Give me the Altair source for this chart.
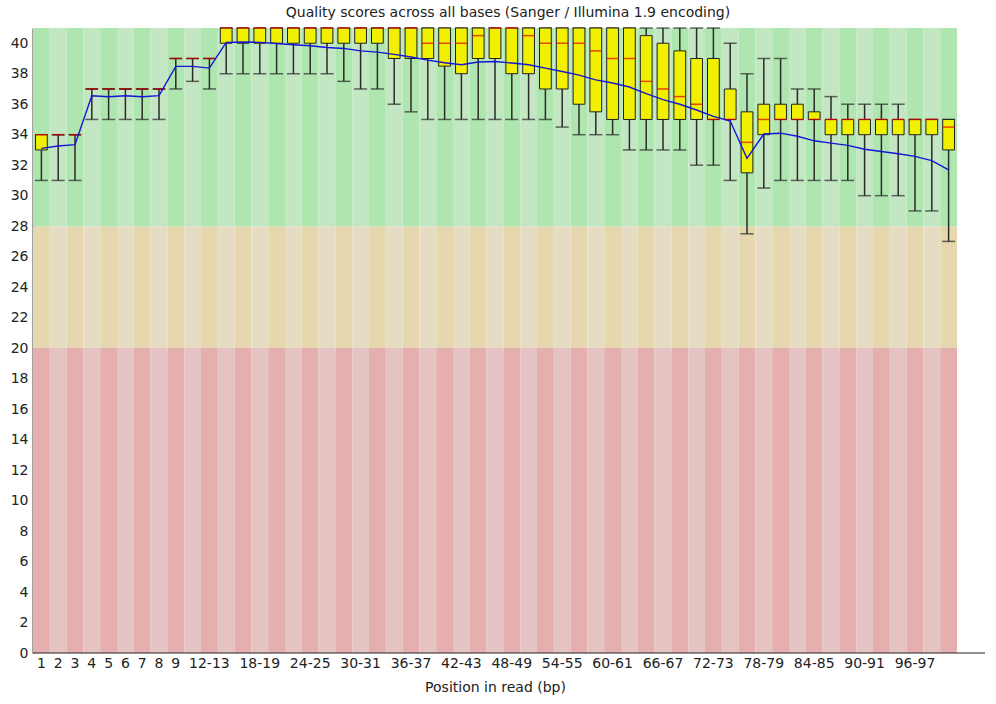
import altair as alt
import pandas as pd

positions = ["1", "2", "3", "4", "5", "6", "7", "8", "9",
             "10-11", "12-13", "14-15", "16-17", "18-19", "20-21", "22-23", "24-25",
             "26-27", "28-29", "30-31", "32-33", "34-35", "36-37", "38-39", "40-41",
             "42-43", "44-45", "46-47", "48-49", "50-51", "52-53", "54-55", "56-57",
             "58-59", "60-61", "62-63", "64-65", "66-67", "68-69", "70-71", "72-73",
             "74-75", "76-77", "78-79", "80-81", "82-83", "84-85", "86-87", "88-89",
             "90-91", "92-93", "94-95", "96-97", "98-99", "100-101"]

shown_labels = ["1", "2", "3", "4", "5", "6", "7", "8", "9", "12-13", "18-19", "24-25",
                "30-31", "36-37", "42-43", "48-49", "54-55", "60-61", "66-67", "72-73",
                "78-79", "84-85", "90-91", "96-97"]

# 10th percentile (lower whisker)
p10 = [31, 31, 31, 35, 35, 35, 35, 35, 37, 37.5, 37, 38, 38, 38, 38, 38, 38, 38, 37.5,
       37, 37, 36, 35.5, 35, 35, 35, 35, 35, 35, 35, 35, 34.5, 34, 34, 34, 33, 33, 33,
       33, 32, 32, 31, 27.5, 30.5, 31, 31, 31, 31, 31, 30, 30, 30, 29, 29, 27]
# lower quartile
q1 = [33, 34, 34, 37, 37, 37, 37, 37, 39, 39, 39, 40, 40, 40, 40, 40, 40, 40, 40,
      40, 40, 39, 39, 39, 38.5, 38, 39, 39, 38, 38, 37, 37, 36, 35.5, 35, 35, 35, 35,
      35, 35, 35, 35, 31.5, 34, 35, 35, 35, 34, 34, 34, 34, 34, 34, 34, 33]
# median
median = [34, 34, 34, 37, 37, 37, 37, 37, 39, 39, 39, 41, 41, 41, 41, 41, 41, 41, 41,
          41, 41, 41, 41, 40, 40, 40, 40.5, 41, 41, 40.5, 40, 40, 40, 39.5, 39, 39, 37.5, 37,
          36.5, 36, 35, 35, 33.5, 35, 35, 35, 35, 35, 35, 35, 35, 35, 35, 35, 34.5]
# upper quartile
q3 = [34, 34, 34, 37, 37, 37, 37, 37, 39, 39, 39, 41, 41, 41, 41, 41, 41, 41, 41,
      41, 41, 41, 41, 41, 41, 41, 41, 41, 41, 41, 41, 41, 41, 41, 41, 41, 40.5, 40,
      39.5, 39, 39, 37, 35.5, 36, 36, 36, 35.5, 35, 35, 35, 35, 35, 35, 35, 35]
# 90th percentile (upper whisker)
p90 = [34, 34, 34, 37, 37, 37, 37, 37, 39, 39, 39, 41, 41, 41, 41, 41, 41, 41, 41,
       41, 41, 41, 41, 41, 41, 41, 41, 41, 41, 41, 41, 41, 41, 41, 41, 41, 41, 41,
       41, 41, 41, 40, 38, 39, 39, 37, 37, 36.5, 36, 36, 36, 36, 35, 35, 35]
# mean quality
mean = [33.1, 33.26, 33.35, 36.56, 36.49, 36.56, 36.49, 36.56, 38.48, 38.48, 38.37,
        40.05, 40.08, 40.06, 39.98, 39.9, 39.84, 39.72, 39.66, 39.5, 39.42, 39.27, 39.1,
        38.89, 38.72, 38.59, 38.77, 38.8, 38.7, 38.59, 38.37, 38.15, 37.91, 37.6, 37.39,
        37.13, 36.7, 36.3, 36.0, 35.62, 35.2, 34.9, 32.45, 34.05, 34.1, 33.9, 33.6, 33.45,
        33.3, 33.05, 32.9, 32.75, 32.58, 32.3, 31.7]

y_ticks = [0, 2, 4, 6, 8, 10, 12, 14, 16, 18, 20, 22, 24, 26, 28, 30, 32, 34, 36, 38, 40]

zone_names = ["bad", "warn", "good"]
zone_low = [0, 20, 28]
zone_high = [20, 28, 41]

stats = pd.DataFrame({"pos": positions, "p10": p10, "q1": q1, "median": median,
                      "q3": q3, "p90": p90, "mean": mean})

bg_rows = []
for zn, lo, hi in zip(zone_names, zone_low, zone_high):
    for i, p in enumerate(positions):
        bg_rows.append({"pos": p, "lo": lo, "hi": hi, "shade": f"{zn}_{i % 2}"})
bg = pd.DataFrame(bg_rows)

FONT = "DejaVu Sans"
FS = 14
W, H = 924, 625


def xenc():
    return alt.X("pos:N", sort=positions,
                 scale=alt.Scale(domain=positions, paddingInner=0, paddingOuter=0),
                 axis=alt.Axis(values=shown_labels, labelAngle=0, ticks=False, domain=False,
                               labelPadding=3, labelFontSize=FS, labelColor="#222",
                               labelFont=FONT, title="Position in read (bp)",
                               titleFont=FONT, titleFontSize=FS, titleFontWeight="normal",
                               titleColor="#222", titlePadding=10))


def yenc(field):
    return alt.Y(f"{field}:Q",
                 scale=alt.Scale(domain=[0, 41], nice=False, zero=True),
                 axis=alt.Axis(values=y_ticks, ticks=False, grid=False, labelFontSize=FS,
                               labelFont=FONT, labelColor="#222", labelPadding=5,
                               domainColor="#444", domainWidth=2, title=""))


background = alt.Chart(bg).mark_rect().encode(
    x=xenc(),
    y=yenc("lo"),
    y2="hi:Q",
    color=alt.Color("shade:N", legend=None,
                    scale=alt.Scale(domain=["good_0", "good_1", "warn_0", "warn_1", "bad_0", "bad_1"],
                                    range=["#afe6af", "#c3e6c3", "#e6d7af", "#e6dcc3",
                                           "#e6afaf", "#e6c3c3"])),
)

whisker = alt.Chart(stats).mark_rule(color="#2a2a2a", strokeWidth=1.5).encode(
    x=xenc(), y=yenc("p10"), y2="p90:Q")

cap_low = alt.Chart(stats).mark_tick(color="#2a2a2a", size=13, thickness=1.5).encode(
    x=xenc(), y=yenc("p10"))
cap_high = alt.Chart(stats).mark_tick(color="#2a2a2a", size=13, thickness=1.5).encode(
    x=xenc(), y=yenc("p90"))

box = alt.Chart(stats).mark_bar(color="#f0f000", stroke="#222", strokeWidth=1,
                                width=alt.RelativeBandSize(0.7)).encode(
    x=xenc(), y=yenc("q1"), y2="q3:Q")

med = alt.Chart(stats).mark_tick(color="#e00000", size=12, thickness=1.5).encode(
    x=xenc(), y=yenc("median"))

mean_line = alt.Chart(stats).mark_line(color="#1515d8", strokeWidth=1.4).encode(
    x=xenc(), y=yenc("mean"))

xline = alt.Chart(pd.DataFrame({"a": [0]})).mark_rule(color="#222", strokeWidth=1).encode(
    x=alt.value(0), x2=alt.value(952), y=alt.value(H))

chart = alt.layer(background, whisker, cap_low, cap_high, box, med, mean_line, xline).properties(
    width=W, height=H,
    title=alt.TitleParams("Quality scores across all bases (Sanger / Illumina 1.9 encoding)",
                          font=FONT, fontSize=FS, fontWeight="normal", color="#222",
                          anchor="middle", dx=13, offset=7),
    autosize=alt.AutoSizeParams(type="none"),
    padding={"left": 33, "top": 28, "right": 39, "bottom": 51},
).configure_view(stroke=None)

chart.save("out.html", embed_options={"renderer": "svg", "actions": False})
